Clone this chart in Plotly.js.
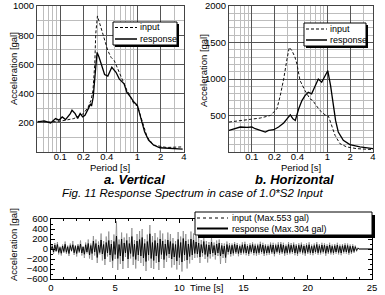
<!DOCTYPE html>
<html><head><meta charset="utf-8">
<script src="https://cdn.plot.ly/plotly-3.0.1.min.js"></script>
<style>html,body{margin:0;padding:0;background:#fff}#chart{width:385px;height:295px}</style>
</head><body><div id="chart"></div>
<script>
// ---- Fig a. Vertical response spectrum ----
const periodV_in = [0.051,0.07,0.1,0.15,0.2,0.23,0.25,0.265,0.28,0.288,0.303,0.324,0.357,0.413,0.455,0.50,0.61,0.72,0.815,0.898,1.0,1.1,1.2,1.33,1.61,2.37,3.85];
const accV_in    = [210,205,211,229,263,308,354,420,605,809,932,886,807,694,648,626,512,430,376,330,315,240,172,104,48,31,35];
const periodV_resp = [0.051,0.062,0.075,0.087,0.096,0.106,0.117,0.135,0.142,0.156,0.168,0.181,0.195,0.209,0.231,0.247,0.254,0.267,0.288,0.300,0.318,0.340,0.375,0.413,0.465,0.527,0.580,0.671,0.727,0.815,0.898,0.996,1.07,1.146,1.236,1.39,1.61,1.95,2.62,3.85];
const accV_resp    = [206,213,199,229,218,240,222,263,286,263,229,263,240,252,297,331,315,376,580,682,649,603,531,520,580,546,501,467,410,376,342,320,263,206,138,82,48,29,25,20];

// ---- Fig b. Horizontal response spectrum ----
const periodH_in = [0.05,0.078,0.129,0.176,0.215,0.238,0.264,0.292,0.313,0.34,0.372,0.396,0.434,0.505,0.588,0.644,0.684,0.796,0.927,1.03,1.14,1.26,1.46,1.79,2.43,4.0];
const accH_in    = [410,432,465,500,592,773,1000,1273,1433,1387,1300,1200,980,841,728,705,660,569,510,492,364,228,115,70,46,33];
const periodH_resp = [0.05,0.058,0.0705,0.0865,0.1,0.111,0.129,0.151,0.167,0.195,0.226,0.264,0.292,0.323,0.35,0.376,0.417,0.46,0.505,0.558,0.618,0.684,0.757,0.839,0.908,1.01,1.10,1.19,1.28,1.39,1.62,1.98,2.69,4.0];
const accH_resp    = [296,319,342,337,342,319,296,274,296,305,342,397,455,510,455,432,592,705,773,819,796,909,1000,956,1024,1114,909,637,432,274,160,101,70,46];

// ---- Time history (sampled every 0.1 s from 0 s) ----
const timeStart = 0, timeStep = 0.1;
const accTime_in = [
0,80,-100,120,-60,140,-110,50,-130,90,
-80,150,-100,70,-140,110,-50,160,-120,80,
-150,100,-80,170,-130,60,-180,130,-90,190,
-190,110,-220,260,-130,190,-280,150,-110,310,
-230,160,-320,250,-150,350,-260,180,-380,290,
-200,553,-420,190,-300,330,-400,230,-160,310,
-380,240,-190,420,-320,180,-390,300,-240,360,
-280,400,-340,200,-440,290,-230,480,-380,260,
-400,320,-280,230,-420,370,-200,310,-380,190,
-260,330,-180,300,-370,220,-320,160,-410,340,
-320,250,-450,360,-240,300,-390,190,-290,350,
-220,310,-180,260,-170,220,-280,180,-150,240,
-200,160,-270,140,-190,230,-150,130,-210,170,
-140,190,-300,120,-180,110,-280,150,-110,120,
-150,110,-130,140,-100,120,-145,90,-120,135,
-105,145,-125,95,-140,115,-90,135,-125,105,
-135,105,-115,145,-95,125,-140,100,-125,90,
-115,130,-100,125,-145,105,-90,135,-115,140,
-100,125,-135,90,-115,140,-105,120,-95,130,
-125,100,-140,115,-90,130,-110,95,-135,115,
-100,135,-115,90,-125,110,-95,140,-115,100,
-110,125,-90,115,-135,95,-100,125,-110,90,
-115,100,-95,125,-110,90,-125,100,-90,115,
-95,110,-115,90,-100,95,-80,70,-50,25,
0,0,0,0,0,0,0,0,0,0,0];
const accTime_resp = [
0,50,-60,80,-40,90,-70,30,-85,60,
-50,95,-65,45,-90,70,-35,85,-75,55,
-90,65,-50,100,-80,40,-105,85,-60,110,
-120,70,-90,160,-60,110,-170,80,-70,180,
-100,90,-200,130,-80,170,-120,100,-230,150,
-110,260,-190,90,-140,200,-240,120,-80,170,
-200,110,-90,250,-150,100,-210,160,-120,190,
-140,230,-180,110,-250,150,-120,304,-190,130,
-230,170,-140,120,-260,200,-110,160,-210,100,
-130,180,-100,150,-200,110,-160,90,-240,190,
-170,130,-260,210,-120,160,-220,100,-150,200,
-120,180,-90,140,-100,120,-160,90,-80,150,
-110,90,-150,80,-100,140,-80,70,-120,100,
-80,120,-140,70,-100,60,-170,90,-60,70,
-100,75,-85,95,-65,80,-90,55,-75,85,
-70,95,-80,60,-95,75,-55,90,-80,65,
-85,70,-75,95,-60,80,-90,65,-80,55,
-75,85,-65,80,-95,70,-55,85,-75,95,
-65,80,-85,55,-75,90,-70,75,-60,85,
-80,65,-90,75,-55,85,-70,60,-85,75,
-65,85,-75,55,-80,70,-60,90,-75,65,
-70,80,-55,75,-85,60,-65,80,-70,55,
-75,65,-60,80,-70,55,-80,65,-55,75,
-60,70,-75,55,-65,60,-50,45,-30,15,
0,0,0,0,0,0,0,0,0,0,0];

const periodTicks = [0.1,0.2,0.4,1,2,4];
const periodTickText = ['0.1','0.2','0.4','1','2','4'];
const periodMinor = [0.05,0.06,0.07,0.08,0.09,0.3,0.5,0.6,0.7,0.8,0.9,3];
const accTicksV = [200,400,600,800,1000];
const accTicksH = [500,1000,1500,2000];

const W = 385, H = 295;
const X = px => px / W, Y = py => 1 - py / H;
const FONT = 'Liberation Sans, Arial, sans-serif';
const FS = 9.5;

const traces = [
  {x: periodV_in, y: accV_in, xaxis:'x', yaxis:'y', mode:'lines', line:{color:'#111', width:1, dash:'3px,2px'}, showlegend:false},
  {x: periodV_resp, y: accV_resp, xaxis:'x', yaxis:'y', mode:'lines', line:{color:'#000', width:1.3}, showlegend:false},
  {x: periodH_in, y: accH_in, xaxis:'x2', yaxis:'y2', mode:'lines', line:{color:'#111', width:1, dash:'3px,2px'}, showlegend:false},
  {x: periodH_resp, y: accH_resp, xaxis:'x2', yaxis:'y2', mode:'lines', line:{color:'#000', width:1.3}, showlegend:false},
  {x0: timeStart, dx: timeStep, y: accTime_in, xaxis:'x3', yaxis:'y3', mode:'lines', line:{color:'#8a8a8a', width:0.8}, showlegend:false},
  {x0: timeStart, dx: timeStep, y: accTime_resp, xaxis:'x3', yaxis:'y3', mode:'lines', line:{color:'#000', width:0.9}, showlegend:false}
];

function logAxis(domain){
  return {type:'log', domain:domain, range:[Math.log10(0.05), Math.log10(4)],
    tickmode:'array', tickvals:periodTicks, ticktext:periodTickText,
    showgrid:true, gridcolor:'#555', gridwidth:1, zeroline:false,
    showline:true, linecolor:'#444', linewidth:1, mirror:true, ticks:'',
    ticklabelstandoff:-4,
    tickfont:{family:FONT, size:FS, color:'#000'},
    minor:{tickvals:periodMinor, showgrid:true, gridcolor:'#bdbdbd', gridwidth:1, ticks:''}};
}
function linAxis(domain, range, ticks, anchor){
  return {domain:domain, range:range, tickmode:'array', tickvals:ticks, anchor:anchor,
    showgrid:true, gridcolor:'#555', gridwidth:1, zeroline:false,
    showline:true, linecolor:'#444', linewidth:1, mirror:true, ticks:'',
    tickfont:{family:FONT, size:FS, color:'#000'},
    minor:{dtick:100, showgrid:true, gridcolor:'#bdbdbd', gridwidth:1, ticks:''}};
}

const topDom = [Y(152), Y(6)];
const layout = {
  width:W, height:H, margin:{l:0,r:0,t:0,b:0},
  paper_bgcolor:'#fff', plot_bgcolor:'#fff', showlegend:false,
  font:{family:FONT, size:FS, color:'#000'},
  xaxis: Object.assign(logAxis([X(37), X(184)]), {anchor:'y'}),
  yaxis: linAxis(topDom, [0,1000], accTicksV, 'x'),
  xaxis2: Object.assign(logAxis([X(229), X(373)]), {anchor:'y2'}),
  yaxis2: linAxis(topDom, [0,2000], accTicksH, 'x2'),
  xaxis3: {domain:[X(51), X(372)], anchor:'y3', range:[0,25], dtick:5, tick0:0,
    showgrid:false, zeroline:false, showline:true, linecolor:'#000', linewidth:1, mirror:'ticks',
    ticks:'inside', ticklen:4, tickcolor:'#000', tickfont:{family:FONT, size:FS},
    minor:{dtick:1, ticks:'inside', ticklen:2, tickcolor:'#000'}},
  yaxis3: {domain:[Y(279), Y(219)], anchor:'x3', range:[-600,600], dtick:200, tick0:0,
    showgrid:false, zeroline:false, showline:true, linecolor:'#000', linewidth:1, mirror:'ticks',
    ticks:'inside', ticklen:4, tickcolor:'#000', tickfont:{family:FONT, size:FS},
    minor:{dtick:100, ticks:'inside', ticklen:2, tickcolor:'#000'}},
  annotations: [],
  shapes: []
};

function ann(text, px, py, opts){
  layout.annotations.push(Object.assign({text:text, x:X(px), y:Y(py), xref:'paper', yref:'paper',
    showarrow:false, xanchor:'center', yanchor:'middle', font:{family:FONT, size:FS, color:'#000'}}, opts||{}));
}
ann('Period [s]', 110, 167);
ann('Period [s]', 301, 167);
ann('Acceleration [gal]', 13, 69, {textangle:-90});
ann('Acceleration [gal]', 203, 70, {textangle:-90});
ann('Acceleration [gal]', 13, 245, {textangle:-90});
ann('Time [s]', 207, 295, {yanchor:'bottom'});
ann('<b><i>a. Vertical</i></b>', 134.5, 179.5, {font:{family:FONT, size:13, color:'#000'}});
ann('<b><i>b. Horizontal</i></b>', 294, 179.5, {font:{family:FONT, size:13, color:'#000'}});
ann('<i>Fig. 11 Response Spectrum in case of 1.0*S2 Input</i>', 192.5, 192.5, {font:{family:FONT, size:11.5, color:'#000'}});

function legendBox(x0, y0, x1, y1, sh){
  layout.shapes.push({type:'rect', xref:'paper', yref:'paper', x0:X(x0+sh), y0:Y(y0+sh), x1:X(x1+sh), y1:Y(y1+sh), fillcolor:'#000', line:{width:0}});
  layout.shapes.push({type:'rect', xref:'paper', yref:'paper', x0:X(x0), y0:Y(y0), x1:X(x1), y1:Y(y1), fillcolor:'#fff', line:{color:'#000', width:1}});
}
function legendLine(x0, x1, y, style){
  layout.shapes.push({type:'line', xref:'paper', yref:'paper', x0:X(x0), y0:Y(y), x1:X(x1), y1:Y(y), line:style});
}
const LF = {family:FONT, size:9, color:'#000'};
// legend a
legendBox(113, 22, 177, 45, 2);
legendLine(115, 137, 27.5, {color:'#000', width:1, dash:'3px,2px'});
legendLine(115, 137, 39, {color:'#000', width:1.5});
ann('input', 138, 27.5, {xanchor:'left', font:LF});
ann('response', 138, 39, {xanchor:'left', font:LF});
// legend b
legendBox(304, 23, 366, 46, 2);
legendLine(306, 327, 29, {color:'#000', width:1, dash:'3px,2px'});
legendLine(306, 327, 40, {color:'#000', width:1.5});
ann('input', 328, 29, {xanchor:'left', font:LF});
ann('response', 328, 40, {xanchor:'left', font:LF});
// legend time history
legendBox(195, 212, 372, 235, 3);
legendLine(197, 228, 218, {color:'#000', width:1, dash:'dot'});
legendLine(197, 228, 228.5, {color:'#000', width:2});
ann('input (Max.553 gal)', 230, 218, {xanchor:'left', font:LF});
ann('response (Max.304 gal)', 230, 228.5, {xanchor:'left', font:LF});

Plotly.newPlot('chart', traces, layout, {staticPlot:true, displayModeBar:false});
</script>
</body></html>
